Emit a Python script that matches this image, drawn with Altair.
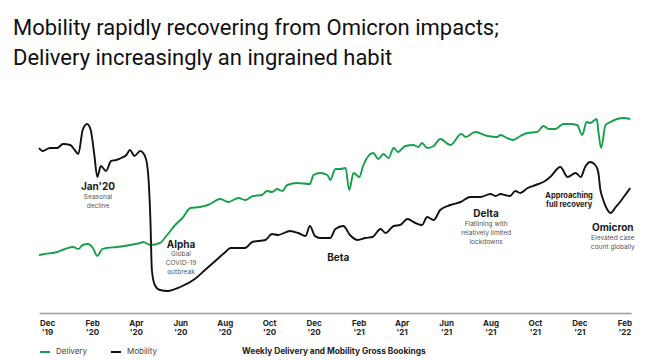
import altair as alt
import pandas as pd

# ---------------- data ----------------
mobility_dates = [
    "2019-11-20", "2019-11-25", "2019-12-05", "2019-12-15", "2019-12-23", "2020-01-02", "2020-01-08",
    "2020-01-13", "2020-01-19", "2020-01-25", "2020-01-30", "2020-02-04", "2020-02-08", "2020-02-13",
    "2020-02-20", "2020-02-27", "2020-03-05", "2020-03-12", "2020-03-19", "2020-03-24", "2020-03-30",
    "2020-04-07", "2020-04-14", "2020-04-18", "2020-04-21", "2020-04-23", "2020-04-27", "2020-05-04",
    "2020-05-15", "2020-06-01", "2020-06-21", "2020-07-05", "2020-07-19", "2020-08-02", "2020-08-09",
    "2020-08-29", "2020-09-08", "2020-09-26", "2020-10-05", "2020-10-13", "2020-10-30", "2020-11-10",
    "2020-11-20", "2020-11-26", "2020-12-03", "2020-12-10", "2020-12-24", "2020-12-31", "2021-01-11",
    "2021-01-20", "2021-01-31", "2021-02-10", "2021-02-20", "2021-03-03", "2021-03-10", "2021-03-21",
    "2021-03-30", "2021-04-09", "2021-04-20", "2021-04-29", "2021-05-06", "2021-05-15", "2021-05-24",
    "2021-06-07", "2021-06-21", "2021-07-04", "2021-07-18", "2021-08-01", "2021-08-08", "2021-08-15",
    "2021-08-21", "2021-08-28", "2021-09-04", "2021-09-11", "2021-09-21", "2021-10-02", "2021-10-15",
    "2021-10-22", "2021-11-05", "2021-11-15", "2021-11-26", "2021-12-03", "2021-12-09", "2021-12-16",
    "2021-12-23", "2021-12-27", "2021-12-30", "2022-01-02", "2022-01-06", "2022-01-13", "2022-01-20",
    "2022-01-27", "2022-02-02", "2022-02-09",
]
mobility_values = [
    172, 169, 172, 172, 176, 175, 170,
    166, 190, 196, 190, 165, 143, 154,
    149, 159, 160, 162, 165, 170, 164,
    169, 163, 145, 100, 50, 35, 30,
    29, 33, 41, 50, 59, 68, 72,
    72, 78, 80, 86, 85, 89, 87,
    84, 94, 84, 82, 82, 91, 94,
    85, 80, 82, 83, 91, 87, 94,
    95, 101, 97, 95, 103, 100, 110,
    115, 118, 123, 123, 126, 124, 126,
    125, 124, 129, 127, 132, 135, 139,
    143, 153, 143, 147, 143, 153, 158,
    155, 148, 130, 122, 114, 107, 113,
    119, 125, 132,
]

delivery_dates = [
    "2019-11-20", "2019-11-28", "2019-12-15", "2019-12-26", "2020-01-06", "2020-01-13", "2020-01-19",
    "2020-01-26", "2020-02-02", "2020-02-08", "2020-02-15", "2020-02-21", "2020-03-06", "2020-03-24",
    "2020-04-07", "2020-04-11", "2020-04-21", "2020-05-04", "2020-05-14", "2020-05-25", "2020-06-04",
    "2020-06-15", "2020-06-28", "2020-07-09", "2020-07-26", "2020-08-06", "2020-08-20", "2020-08-29",
    "2020-09-09", "2020-09-21", "2020-09-28", "2020-10-05", "2020-10-12", "2020-10-19", "2020-10-26",
    "2020-11-09", "2020-11-26", "2020-12-01", "2020-12-10", "2020-12-20", "2020-12-24", "2020-12-31",
    "2021-01-07", "2021-01-14", "2021-01-19", "2021-01-25", "2021-02-02", "2021-02-07", "2021-02-21",
    "2021-02-28", "2021-03-07", "2021-03-14", "2021-03-21", "2021-03-27", "2021-04-06", "2021-04-17",
    "2021-04-24", "2021-04-29", "2021-05-06", "2021-05-15", "2021-05-24", "2021-06-07", "2021-06-22",
    "2021-06-28", "2021-07-11", "2021-07-28", "2021-08-10", "2021-08-15", "2021-08-21", "2021-09-01",
    "2021-09-11", "2021-09-21", "2021-10-04", "2021-10-13", "2021-10-20", "2021-10-29", "2021-11-09",
    "2021-11-19", "2021-11-28", "2021-12-05", "2021-12-11", "2021-12-16", "2021-12-25", "2021-12-27",
    "2021-12-31", "2022-01-06", "2022-01-13", "2022-01-22", "2022-01-31", "2022-02-09",
]
delivery_values = [
    65, 66, 68, 71, 73, 71, 75,
    76, 72, 64, 71, 72, 73, 75,
    77, 78, 75, 77, 85, 95, 102,
    112, 113, 115, 121, 118, 122, 120,
    124, 125, 129, 128, 131, 129, 135,
    137, 136, 145, 147, 145, 140, 151,
    151, 152, 130, 147, 143, 154, 167,
    161, 166, 162, 172, 168, 174, 175,
    173, 177, 172, 174, 181, 175, 186,
    183, 188, 184, 183, 185, 183, 180,
    184, 187, 188, 194, 191, 191, 196,
    196, 195, 185, 198, 197, 201, 190,
    172, 195, 198, 201, 202, 201,
]

series_names = ["Delivery", "Mobility"]
series_colors = ["#16a04b", "#111111"]

# tick positions (year, month) every two months
tick_months = [(2019, 12), (2020, 2), (2020, 4), (2020, 6), (2020, 8), (2020, 10), (2020, 12),
               (2021, 2), (2021, 4), (2021, 6), (2021, 8), (2021, 10), (2021, 12), (2022, 2)]

# annotations
ann_dates = ["2020-02-09", "2020-02-09", "2020-02-09",
             "2020-06-02", "2020-06-02", "2020-06-02", "2020-06-02",
             "2021-01-04",
             "2021-07-26", "2021-07-26", "2021-07-26", "2021-07-26",
             "2021-11-17", "2021-11-17",
             "2022-01-16", "2022-01-16", "2022-01-16"]
ann_levels = [133, 123, 114,
              75, 66, 57, 48,
              62,
              106, 96, 87, 78,
              124, 115,
              92, 82, 73]
ann_texts = ["Jan'20", "Seasonal", "decline",
             "Alpha", "Global", "COVID-19", "outbreak",
             "Beta",
             "Delta", "Flatlining with", "relatively limited", "lockdowns",
             "Approaching", "full recovery",
             "Omicron", "Elevated case", "count globally"]
ann_kind = ["head", "sub", "sub",
            "head", "sub", "sub", "sub",
            "head",
            "head", "sub", "sub", "sub",
            "head2", "head2",
            "head", "sub", "sub"]

title_text = "Mobility rapidly recovering from Omicron impacts;\nDelivery increasingly an ingrained habit"
caption_text = "Weekly Delivery and Mobility Gross Bookings"

# ---------------- frames ----------------
df = pd.concat([
    pd.DataFrame({"date": delivery_dates, "value": delivery_values, "series": "Delivery"}),
    pd.DataFrame({"date": mobility_dates, "value": mobility_values, "series": "Mobility"}),
], ignore_index=True)

ann = pd.DataFrame({"date": ann_dates, "value": ann_levels, "text": ann_texts, "kind": ann_kind})

FONT = "Inter"
TITLE_FONT = "Roboto"

x_scale = alt.Scale(domain=[alt.DateTime(year=2019, month=11, date=20, utc=True),
                            alt.DateTime(year=2022, month=2, date=10, utc=True)])
y_scale = alt.Scale(domain=[7, 220])
tick_values = [alt.DateTime(year=y, month=m, date=1, utc=True) for (y, m) in tick_months]

x_axis = alt.Axis(
    values=tick_values,
    labelExpr="[utcFormat(datum.value, '%b'), \"'\" + utcFormat(datum.value, '%y')]",
    title=None, ticks=False, grid=False,
    domainColor="#999999", domainWidth=1.5,
    labelFont=FONT, labelFontSize=8, labelFontWeight="bold", labelColor="#222222",
    labelPadding=6, labelLineHeight=9, labelAngle=0, labelFlush=False, labelOverlap=False,
)

lines = alt.Chart(df).mark_line(strokeWidth=1.9, interpolate="monotone").encode(
    x=alt.X("date:T", scale=x_scale, axis=x_axis),
    y=alt.Y("value:Q", scale=y_scale, axis=None),
    color=alt.Color(
        "series:N",
        scale=alt.Scale(domain=series_names, range=series_colors),
        legend=alt.Legend(
            orient="none", legendX=0, legendY=246, direction="horizontal", title=None,
            symbolType="stroke", symbolStrokeWidth=2, symbolSize=100,
            labelFont=FONT, labelFontSize=8, labelColor="#444444", labelOffset=5,
            columnPadding=20,
        ),
    ),
)

def ann_layer(kind, size, weight, color):
    return alt.Chart(ann).transform_filter(alt.datum.kind == kind).mark_text(
        font=FONT, fontSize=size, fontWeight=weight, color=color, align="center", baseline="middle"
    ).encode(
        x=alt.X("date:T", scale=x_scale),
        y=alt.Y("value:Q", scale=y_scale),
        text="text:N",
    )

heads = ann_layer("head", 10, "bold", "#1a1a1a")
heads2 = ann_layer("head2", 7.5, "bold", "#1a1a1a")
subs = ann_layer("sub", 6.6, "normal", "#555555")

title = alt.Chart(pd.DataFrame({"t": [title_text]})).mark_text(
    font=TITLE_FONT, fontSize=22, color="#111111", align="left", baseline="alphabetic",
    lineBreak="\n", lineHeight=30,
).encode(text="t:N", x=alt.value(-26), y=alt.value(-65))

caption = alt.Chart(pd.DataFrame({"t": [caption_text]})).mark_text(
    font=FONT, fontSize=8.3, fontWeight="bold", color="#222222", align="left", baseline="middle",
).encode(text="t:N", x=alt.value(203), y=alt.value(252))

chart = alt.layer(lines, heads, heads2, subs, title, caption).properties(
    width=592, height=213,
    autosize=alt.AutoSizeParams(type="none"),
    padding={"left": 31, "top": 92, "right": 18, "bottom": 48},
).configure_view(stroke=None)

chart.save("out.html", embed_options={"renderer": "svg", "actions": False})
